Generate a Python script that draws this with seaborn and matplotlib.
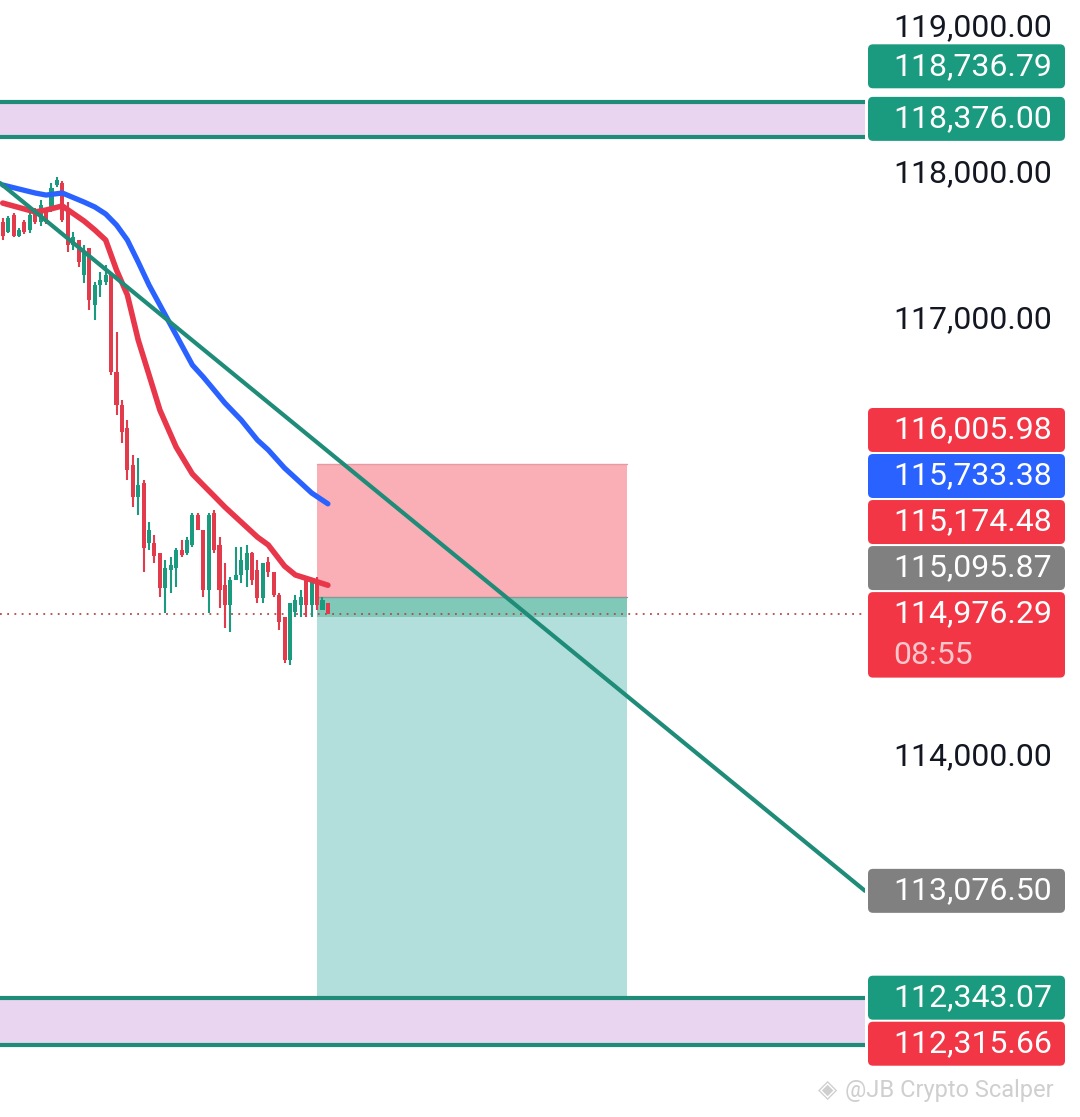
import numpy as np
import pandas as pd
import seaborn as sns
import matplotlib.pyplot as plt
from matplotlib.patches import FancyBboxPatch, Rectangle

# candles (one per bar)
opens = [117670, 117600, 117715, 117570, 117670, 117615, 117750, 117670, 117735, 117750,
         117920, 117935, 117750, 117510, 117545, 117305, 117490, 117100, 117235, 117255,
         117305, 116640, 116410, 116255, 116000, 115780, 115875, 115465, 115465, 115395,
         115155, 115280, 115295, 115415, 115395, 115450, 115655, 115555, 115140, 115670,
         115450, 115175, 115040, 115210, 115245, 115280, 115395, 115280, 115085, 115335,
         115265, 115105, 114955, 114660, 114990, 115040, 115210, 115040, 115210, 115005,
         115050]
highs = [117695, 117710, 117730, 117625, 117680, 117730, 117765, 117820, 117750, 117935,
         117975, 117950, 117805, 117600, 117545, 117510, 117490, 117255, 117325, 117375,
         117320, 116915, 116445, 116310, 116070, 116050, 115895, 115610, 115520, 115395,
         115350, 115370, 115430, 115485, 115505, 115670, 115670, 115555, 115670, 115690,
         115505, 115325, 115230, 115435, 115435, 115450, 115405, 115350, 115325, 115370,
         115265, 115120, 114955, 115050, 115105, 115140, 115225, 115225, 115230, 115095,
         115050]
lows = [117545, 117590, 117565, 117565, 117585, 117590, 117655, 117640, 117655, 117735,
        117910, 117670, 117460, 117475, 117360, 117250, 117065, 116995, 117155, 117235,
        116620, 116345, 116150, 115895, 115710, 115655, 115265, 115415, 115325, 115095,
        114985, 115120, 115160, 115370, 115380, 115435, 115555, 115095, 114985, 115395,
        115020, 114880, 114855, 115210, 115190, 115160, 115175, 115050, 115050, 115230,
        115095, 114865, 114640, 114625, 114955, 114955, 114955, 114955, 115005, 115005,
        114976.29]
closes = [117570, 117695, 117570, 117615, 117600, 117715, 117670, 117785, 117670, 117900,
          117955, 117680, 117510, 117565, 117395, 117455, 117130, 117235, 117270, 117305,
          116640, 116410, 116225, 115965, 115780, 115860, 115430, 115555, 115375, 115155,
          115295, 115315, 115415, 115380, 115485, 115655, 115555, 115140, 115655, 115415,
          115140, 115040, 115210, 115245, 115350, 115395, 115210, 115085, 115325, 115265,
          115105, 114920, 114660, 115050, 115075, 115095, 115040, 115210, 115040, 115075,
          114976.29]

# moving averages, read at some bars
ema_idx = [0, 6, 8, 11, 15, 17, 19, 21, 23, 25, 27, 29, 32, 35, 37, 39, 41, 44, 47, 49,
           52, 54, 57, 60]
ema_red = [117798, 117737, 117750, 117778, 117675, 117613, 117544, 117338, 117167, 116858,
           116618, 116377, 116123, 115938, 115862, 115787, 115711, 115608, 115505, 115451,
           115306, 115245, 115210, 115174.48]
ema_blue = [117922, 117867, 117853, 117867, 117805, 117771, 117723, 117647, 117544, 117393,
            117235, 117098, 116892, 116686, 116604, 116515, 116425, 116309, 116171, 116103,
            115979, 115911, 115808, 115733.38]

trend_idx = [-0.5, 159.1]
trend_price = [117936, 113076.5]

zone_top = [118250, 118490]
zone_bottom = [112018, 112343.07]

pos_idx = [58, 115.2]
stop_price = 116005.98
entry_price = 115095.87
target_price = 112343.07
last_price = 114976.29
timer = "08:55"

tick_values = [119000, 118000, 117000, 116000, 115000, 114000, 113000, 112000]

label_values = [118736.79, 118376.00, 116005.98, 115733.38, 115174.48, 115095.87,
                114976.29, 113076.50, 112343.07, 112315.66]
label_colors = ["#1A9A7E", "#1A9A7E", "#F23645", "#2962FF", "#F23645", "#808080",
                "#F23645", "#808080", "#1A9A7E", "#F23645"]

UP = "#1A9A7E"
DOWN = "#E23B4C"
TEAL = "#1E8C78"

sns.set_theme(style="white")
plt.rcParams['font.family'] = ['Roboto', 'DejaVu Sans']

fig = plt.figure(figsize=(10.8, 11.17), dpi=100)
ax = fig.add_axes([0, 0, 865 / 1080, 1])
ymin, ymax = 111524, 119192

# zones
for z in (zone_top, zone_bottom):
    ax.axhspan(z[0], z[1], color="#E9D5F0", lw=0, zorder=1)
    for v in z:
        ax.axhline(v, color=TEAL, lw=3, zorder=2)

# position box
w = pos_idx[1] - pos_idx[0]
ax.add_patch(Rectangle((pos_idx[0], entry_price), w, stop_price - entry_price,
                       color="#F9AFB5", lw=0, zorder=1))
ax.add_patch(Rectangle((pos_idx[0], target_price), w, entry_price - target_price,
                       color="#B2DFDB", lw=0, zorder=1))
ax.add_patch(Rectangle((pos_idx[0], last_price - 20), w, entry_price - last_price + 20,
                       color="#80C8B8", lw=0, zorder=1))
ax.plot(pos_idx, [stop_price, stop_price], color="#E89AA2", lw=1, zorder=1)
ax.plot(pos_idx, [entry_price, entry_price], color="#8A9A96", lw=1, zorder=1)

# last price dotted line
ax.axhline(last_price, color="#B04A4A", lw=1.3, ls=(0, (1, 3)), zorder=2)

# candles
df = pd.DataFrame({"o": opens, "h": highs, "l": lows, "c": closes})
df["i"] = np.arange(len(df))
colors = np.where(df["c"] >= df["o"], UP, DOWN)
ax.vlines(df["i"], df["l"], df["h"], colors=colors, lw=1.5, zorder=3)
body = (df["c"] - df["o"]).abs().clip(lower=8)
ax.bar(df["i"], body, bottom=df[["o", "c"]].min(axis=1), width=0.75, color=colors,
       lw=0, zorder=3)

# averages and trend line
ema = pd.DataFrame({"i": ema_idx, "red": ema_red, "blue": ema_blue})
sns.lineplot(data=ema, x="i", y="red", ax=ax, color="#E8374A", lw=4, zorder=4)
sns.lineplot(data=ema, x="i", y="blue", ax=ax, color="#2962FF", lw=3.8, zorder=4)
sns.lineplot(x=trend_idx, y=trend_price, ax=ax, color=TEAL, lw=3, zorder=4)
ax.set_ylim(ymin, ymax)
ax.set_xlim(-0.5, 159.1)
ax.axis("off")

# price scale
ax2 = fig.add_axes([865 / 1080, 0, 215 / 1080, 1])
ax2.set_xlim(0, 215)
ax2.set_ylim(ymin, ymax)
ax2.axis("off")

# stack labels around the live price so they don't overlap
gap = 316
order = np.argsort(label_values)[::-1]
vals = [label_values[k] for k in order]
cols = [label_colors[k] for k in order]
anchor = vals.index(last_price)
pos = list(vals)
for k in range(anchor - 1, -1, -1):
    pos[k] = max(vals[k], pos[k + 1] + gap)
for k in range(anchor + 1, len(vals)):
    pos[k] = min(vals[k], pos[k - 1] - gap)

half = 151
spans = []
for v, p, c in zip(vals, pos, cols):
    bottom = p - half
    height = 2 * half
    if v == last_price:
        bottom = p - half - 285
        height = 2 * half + 285
    spans.append((bottom, bottom + height))
    ax2.add_patch(FancyBboxPatch((3, bottom), 197, height,
                                 boxstyle="round,pad=0,rounding_size=5",
                                 mutation_aspect=6.865, color=c, lw=0, zorder=3))
    ax2.text(187, p, f"{v:,.2f}", ha="right", va="center", fontsize=23,
             color="white", zorder=4)
    if v == last_price:
        ax2.text(28, p - 282, timer, ha="left", va="center", fontsize=23,
                 color="#F9C6CB", zorder=4)

# grid prices that are hidden behind a label are not drawn
for t in tick_values:
    if any(lo - 60 < t < hi + 60 for lo, hi in spans):
        continue
    ax2.text(187, t, f"{t:,.2f}", ha="right", va="center", fontsize=23,
             color="#131722", zorder=1)

# watermark
fig.text(0.757, 0.024, "◈", fontsize=18, color="#CFCFCF", ha="left", va="center")
fig.text(0.782, 0.024, "@JB Crypto Scalper", fontsize=17, color="#CFCFCF",
         ha="left", va="center")

fig.savefig("out.png", dpi=100)
